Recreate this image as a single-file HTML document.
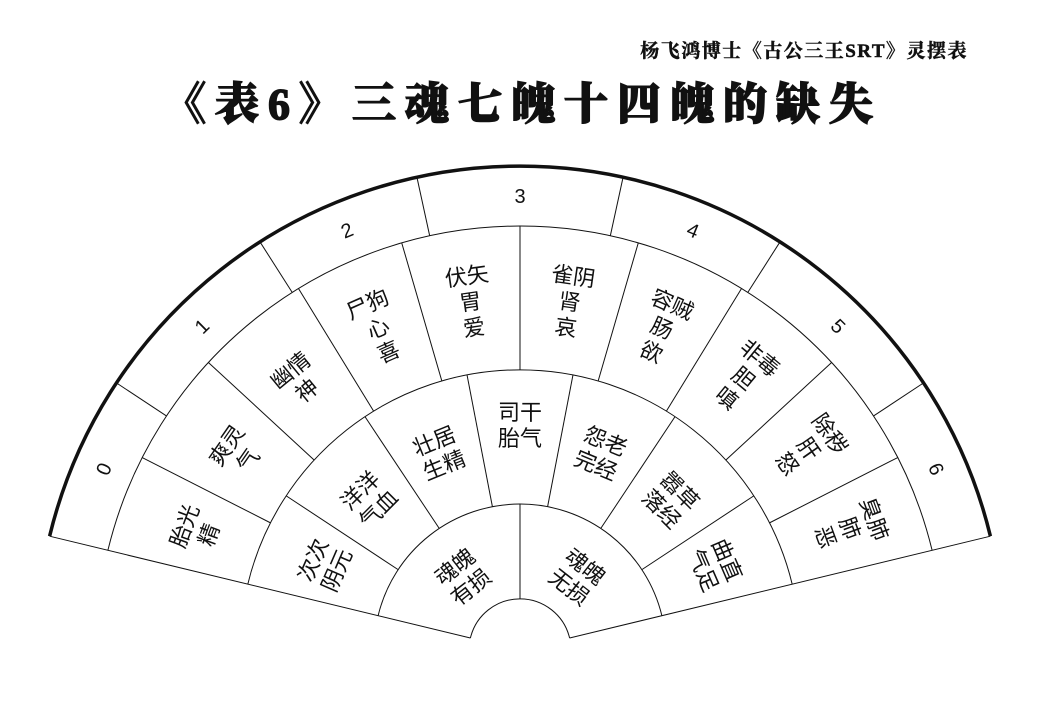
<!DOCTYPE html>
<html><head><meta charset="utf-8"><style>
html,body{margin:0;padding:0;background:#fff;width:1039px;height:720px;overflow:hidden}
svg{display:block}
.t{font-family:"Liberation Sans","Noto Sans CJK SC",sans-serif;font-size:22px;fill:#111;text-anchor:middle}
.n{font-family:"Liberation Sans",sans-serif;font-size:20px;fill:#111;text-anchor:middle}
</style></head><body>
<svg width="1039" height="720" viewBox="0 0 1039 720" xmlns="http://www.w3.org/2000/svg">
<text x="968" y="57" text-anchor="end" style="font-family:'Liberation Serif','Noto Serif CJK SC',serif;font-weight:bold;font-size:19px;letter-spacing:1.5px;fill:#111;stroke:#111;stroke-width:0.5">杨飞鸿博士《古公三王SRT》灵摆表</text>
<text x="522" y="119" text-anchor="middle" style="font-family:'Liberation Serif','Noto Serif CJK SC',serif;font-weight:900;font-size:44px;fill:#111;stroke:#111;stroke-width:1.5;letter-spacing:9px">《表6》三魂七魄十四魄的缺失</text>
<g fill="none" stroke="#111" stroke-width="1">
<path d="M49.6,536.2 A484,484 0 0 1 990.4,536.2" stroke-width="3.5"/>
<path d="M107.9,550.3 A424,424 0 0 1 932.1,550.3"/>
<path d="M247.8,584.2 A280,280 0 0 1 792.2,584.2"/>
<path d="M378.1,615.7 A146,146 0 0 1 661.9,615.7"/>
<path d="M470.4,638 A51,51 0 0 1 569.6,638"/>
<path d="M49.6,536.2 L470.4,638"/>
<path d="M990.4,536.2 L569.6,638"/>
<g>
<line x1="520" y1="166" x2="520" y2="226" transform="rotate(-56.5 520 650)"/>
<line x1="520" y1="166" x2="520" y2="226" transform="rotate(-32.5 520 650)"/>
<line x1="520" y1="166" x2="520" y2="226" transform="rotate(-12.3 520 650)"/>
<line x1="520" y1="166" x2="520" y2="226" transform="rotate(12.3 520 650)"/>
<line x1="520" y1="166" x2="520" y2="226" transform="rotate(32.5 520 650)"/>
<line x1="520" y1="166" x2="520" y2="226" transform="rotate(56.5 520 650)"/>
</g>
<g>
<line x1="520" y1="226" x2="520" y2="370" transform="rotate(-63 520 650)"/>
<line x1="520" y1="226" x2="520" y2="370" transform="rotate(-47.3 520 650)"/>
<line x1="520" y1="226" x2="520" y2="370" transform="rotate(-31.5 520 650)"/>
<line x1="520" y1="226" x2="520" y2="370" transform="rotate(-16.2 520 650)"/>
<line x1="520" y1="226" x2="520" y2="370"/>
<line x1="520" y1="226" x2="520" y2="370" transform="rotate(16.2 520 650)"/>
<line x1="520" y1="226" x2="520" y2="370" transform="rotate(31.5 520 650)"/>
<line x1="520" y1="226" x2="520" y2="370" transform="rotate(47.3 520 650)"/>
<line x1="520" y1="226" x2="520" y2="370" transform="rotate(63 520 650)"/>
</g>
<g>
<line x1="520" y1="370" x2="520" y2="504" transform="rotate(-56.6 520 650)"/>
<line x1="520" y1="370" x2="520" y2="504" transform="rotate(-33.6 520 650)"/>
<line x1="520" y1="370" x2="520" y2="504" transform="rotate(-10.9 520 650)"/>
<line x1="520" y1="370" x2="520" y2="504" transform="rotate(10.9 520 650)"/>
<line x1="520" y1="370" x2="520" y2="504" transform="rotate(33.6 520 650)"/>
<line x1="520" y1="370" x2="520" y2="504" transform="rotate(56.6 520 650)"/>
</g>
<line x1="520" y1="504" x2="520" y2="599"/>
</g>
<g class="n">
<text x="520" y="203" transform="rotate(-66.5 520 650)">0</text>
<text x="520" y="203" transform="rotate(-44.5 520 650)">1</text>
<text x="520" y="203" transform="rotate(-22.4 520 650)">2</text>
<text x="520" y="203">3</text>
<text x="520" y="203" transform="rotate(22.4 520 650)">4</text>
<text x="520" y="203" transform="rotate(44.5 520 650)">5</text>
<text x="520" y="203" transform="rotate(66.5 520 650)">6</text>
</g>
<g class="t">
<text transform="rotate(-69.7 520 650)"><tspan x="520" y="300">胎光</tspan><tspan x="520" dy="26">精</tspan></text>
<text transform="rotate(-55.1 520 650)"><tspan x="520" y="300">爽灵</tspan><tspan x="520" dy="26">气</tspan></text>
<text transform="rotate(-39.4 520 650)"><tspan x="520" y="296">幽情</tspan><tspan x="520" dy="26">神</tspan></text>
<text transform="rotate(-23.8 520 650)"><tspan x="520" y="280">尸狗</tspan><tspan x="520" dy="26">心</tspan><tspan x="520" dy="26">喜</tspan></text>
<text transform="rotate(-8.1 520 650)"><tspan x="520" y="280">伏矢</tspan><tspan x="520" dy="26">胃</tspan><tspan x="520" dy="26">爱</tspan></text>
<text transform="rotate(8.1 520 650)"><tspan x="520" y="280">雀阴</tspan><tspan x="520" dy="26">肾</tspan><tspan x="520" dy="26">哀</tspan></text>
<text transform="rotate(23.8 520 650)"><tspan x="520" y="280">容贼</tspan><tspan x="520" dy="26">肠</tspan><tspan x="520" dy="26">欲</tspan></text>
<text transform="rotate(39.4 520 650)"><tspan x="520" y="280">非毒</tspan><tspan x="520" dy="26">胆</tspan><tspan x="520" dy="26">嗔</tspan></text>
<text transform="rotate(55.1 520 650)"><tspan x="520" y="280">除秽</tspan><tspan x="520" dy="26">肝</tspan><tspan x="520" dy="26">怒</tspan></text>
<text transform="rotate(69.7 520 650)"><tspan x="520" y="280">臭肺</tspan><tspan x="520" dy="26">肺</tspan><tspan x="520" dy="26">恶</tspan></text>

<text transform="rotate(-66.5 520 650)"><tspan x="520" y="432">次次</tspan><tspan x="520" dy="26">阴元</tspan></text>
<text transform="rotate(-45.1 520 650)"><tspan x="520" y="432">洋洋</tspan><tspan x="520" dy="26">气血</tspan></text>
<text transform="rotate(-22.3 520 650)"><tspan x="520" y="432">壮居</tspan><tspan x="520" dy="26">生精</tspan></text>
<text><tspan x="520" y="420">司干</tspan><tspan x="520" dy="26">胎气</tspan></text>
<text transform="rotate(22.3 520 650)"><tspan x="520" y="432">怨老</tspan><tspan x="520" dy="26">完经</tspan></text>
<text transform="rotate(45.1 520 650)"><tspan x="520" y="432">嚣草</tspan><tspan x="520" dy="26">落经</tspan></text>
<text transform="rotate(66.5 520 650)"><tspan x="520" y="432">曲直</tspan><tspan x="520" dy="26">气足</tspan></text>

<text transform="rotate(-38 520 650)"><tspan x="520" y="552">魂魄</tspan><tspan x="520" dy="26">有损</tspan></text>
<text transform="rotate(38 520 650)"><tspan x="520" y="552">魂魄</tspan><tspan x="520" dy="26">无损</tspan></text>
</g>
</svg>
</body></html>
